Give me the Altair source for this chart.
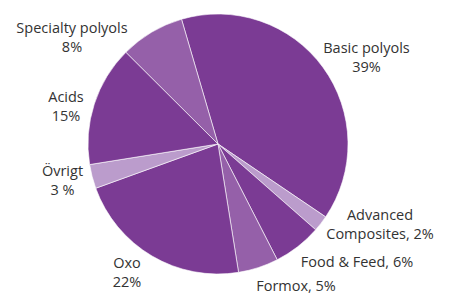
import math
import altair as alt
import pandas as pd

# Data
categories = ["Basic polyols", "Advanced Composites", "Food & Feed", "Formox",
              "Oxo", "Övrigt", "Acids", "Specialty polyols"]
shares = [39, 2, 6, 5, 22, 3, 15, 8]
labels = ["Basic polyols\n39%", "Advanced\nComposites, 2%", "Food & Feed, 6%",
          "Formox, 5%", "Oxo\n22%", "Övrigt\n3 %", "Acids\n15%",
          "Specialty polyols\n8%"]
tones = ["dark", "light", "dark", "mid", "dark", "light", "dark", "mid"]

# Layout (label anchor positions of the first text line, in chart pixels)
label_x = [358.5, 372, 349, 288, 119, 54.5, 58, 64]
label_y = [41, 208, 254.5, 279, 256, 164, 90, 21]

palette = {"dark": "#7B3B94", "mid": "#9560A9", "light": "#BB9CCC"}

df = pd.DataFrame({"category": categories, "share": shares, "tone": tones,
                   "order": list(range(len(categories)))})
lab = pd.DataFrame({"label": labels, "lx": label_x, "ly": label_y})

start = 2 * math.pi - math.radians(16.3)

pie = alt.Chart(df).mark_arc(outerRadius=130, stroke="white", strokeWidth=0.6).encode(
    theta=alt.Theta("share:Q", stack=True, scale=alt.Scale(range=[start, start + 2 * math.pi])),
    order=alt.Order("order:Q"),
    color=alt.Color("tone:N", scale=alt.Scale(domain=list(palette.keys()),
                                              range=list(palette.values())), legend=None),
    x=alt.value(210),
    y=alt.value(136),
)

text = alt.Chart(lab).mark_text(
    font="Open Sans", fontSize=14.5, color="#333333", align="center",
    baseline="middle", lineBreak="\n", lineHeight=19,
).encode(
    x=alt.X("lx:Q", scale=None),
    y=alt.Y("ly:Q", scale=None),
    text="label:N",
)

chart = alt.layer(pie, text).properties(
    width=435, height=281, padding=0,
).configure_view(stroke=None)

chart.save("out.html", embed_options={"renderer": "svg", "actions": False})
